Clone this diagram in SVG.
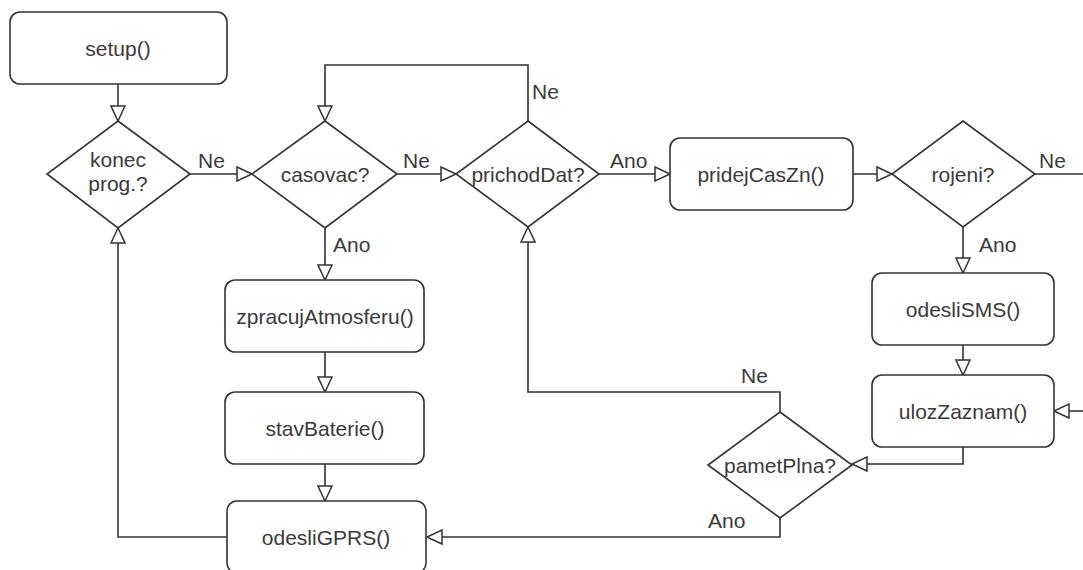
<svg xmlns="http://www.w3.org/2000/svg" width="1083" height="570" viewBox="0 0 1083 570">
<defs>
<marker id="arr" markerUnits="userSpaceOnUse" markerWidth="18" markerHeight="16" refX="16" refY="8" orient="auto">
<path d="M1,1 L16,8 L1,15 Z" fill="#fff" stroke="#333" stroke-width="1.5"/>
</marker>
<style>
.n{fill:#fff;stroke:#333;stroke-width:1.6}
.e{fill:none;stroke:#333;stroke-width:1.6}
.a{marker-end:url(#arr)}
text{font-family:"Liberation Sans",Arial,sans-serif;font-size:21px;fill:#3a3a3a}
.c{text-anchor:middle;dominant-baseline:central}
</style>
</defs>
<rect width="1083" height="570" fill="#fff"/>
<g id="edges">
<path class="e a" d="M118,84 V121"/>
<path class="e a" d="M190,174 H252"/>
<path class="e a" d="M325,228 V280"/>
<path class="e a" d="M325,352 V392"/>
<path class="e a" d="M325,464 V501"/>
<path class="e a" d="M227,537 H118 V228"/>
<path class="e a" d="M397,174 H456"/>
<path class="e a" d="M528,121 V65 H325 V121"/>
<path class="e a" d="M599,174 H670"/>
<path class="e a" d="M853,174 H892"/>
<path class="e" d="M1035,174 H1083"/>
<path class="e a" d="M963,227 V273"/>
<path class="e a" d="M963,345 V375"/>
<path class="e a" d="M1083,411 H1054"/>
<path class="e a" d="M963,447 V464 H852"/>
<path class="e a" d="M780,412 V392 H528 V227"/>
<path class="e a" d="M780,518 V537 H427"/>
<text x="198" y="168">Ne</text>
<text x="333" y="252">Ano</text>
<text x="403" y="168">Ne</text>
<text x="532" y="99">Ne</text>
<text x="610" y="168">Ano</text>
<text x="1039" y="168">Ne</text>
<text x="979" y="252">Ano</text>
<text x="741" y="383">Ne</text>
<text x="708" y="528">Ano</text>
</g>
<g id="setup"><rect class="n" x="10" y="12" width="217" height="72" rx="10"/><text class="c" x="118" y="48">setup()</text></g>
<g id="konec"><path class="n" d="M118,121 L190,174 L118,228 L47,174 Z"/><text x="118" y="167" text-anchor="middle">konec</text><text x="118" y="191" text-anchor="middle">prog.?</text></g>
<g id="casovac"><path class="n" d="M325,121 L397,174 L325,228 L252,174 Z"/><text class="c" x="325" y="174">casovac?</text></g>
<g id="zpracuj"><rect class="n" x="225" y="280" width="199" height="72" rx="10"/><text class="c" x="325" y="316">zpracujAtmosferu()</text></g>
<g id="stav"><rect class="n" x="225" y="392" width="199" height="72" rx="10"/><text class="c" x="325" y="428">stavBaterie()</text></g>
<g id="gprs"><rect class="n" x="227" y="501" width="199" height="72" rx="10"/><text class="c" x="326" y="537">odesliGPRS()</text></g>
<g id="prichod"><path class="n" d="M528,121 L599,174 L528,227 L456,174 Z"/><text class="c" x="528" y="174">prichodDat?</text></g>
<g id="pridej"><rect class="n" x="670" y="138" width="183" height="72" rx="10"/><text class="c" x="761" y="174">pridejCasZn()</text></g>
<g id="rojeni"><path class="n" d="M963,121 L1035,174 L963,227 L892,174 Z"/><text class="c" x="963" y="174">rojeni?</text></g>
<g id="sms"><rect class="n" x="872" y="273" width="182" height="72" rx="10"/><text class="c" x="963" y="309">odesliSMS()</text></g>
<g id="uloz"><rect class="n" x="872" y="375" width="182" height="72" rx="10"/><text class="c" x="963" y="411">ulozZaznam()</text></g>
<g id="pamet"><path class="n" d="M780,412 L852,465 L780,518 L708,465 Z"/><text class="c" x="780" y="465">pametPlna?</text></g>
</svg>
